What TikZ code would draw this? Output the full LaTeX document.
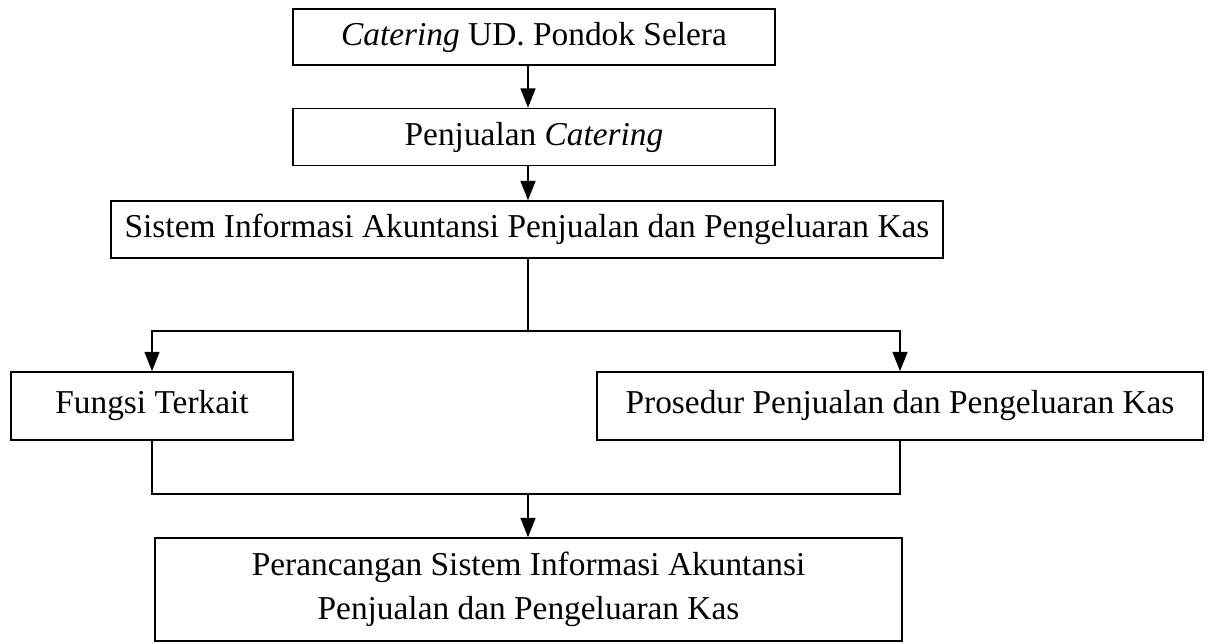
\documentclass[tikz,border=0pt]{standalone}
\usepackage{fontspec}
\setmainfont{Liberation Serif}
\usetikzlibrary{arrows.meta}
\begin{document}
\begin{tikzpicture}[x=0.02cm,y=-0.02cm,line width=0.9pt,>={Triangle[length=11pt,width=8.5pt]}]
		\tikzset{kotak/.style={draw,inner sep=0pt,align=center,
				font=\fontsize{19}{25}\selectfont},
			panah/.style={->,line join=miter}
		}
		\useasboundingbox (0,0) rectangle (1209,643);
		\node[kotak,minimum width=9.64cm,minimum height=1.12cm] (catering) at (534,37) {\textit{Catering} UD. Pondok Selera};
		\node[kotak,minimum width=9.64cm,minimum height=1.14cm] (penjualan) at (534,137) {Penjualan \textit{Catering}};
		\node[kotak,minimum width=16.64cm,minimum height=1.14cm] (sia) at (527,229.5) {Sistem Informasi Akuntansi Penjualan dan Pengeluaran Kas};
		\node[kotak,minimum width=5.64cm,minimum height=1.36cm] (fungsi) at (152,406) {Fungsi Terkait};
		\node[kotak,minimum width=12.12cm,minimum height=1.36cm] (prosedur) at (900,406) {Prosedur Penjualan dan Pengeluaran Kas};
		\node[kotak,minimum width=14.94cm,minimum height=2.06cm] (rancang) at (528.5,589.5) {Perancangan Sistem Informasi Akuntansi\\Penjualan dan Pengeluaran Kas};
		\coordinate (pisah) at (528,331);
		\coordinate (gabung) at (528,494);
		% alur atas
		\draw[panah] (catering.south -| pisah) -- (penjualan.north -| pisah);
		\draw[panah] (penjualan.south -| pisah) -- (sia.north -| pisah);
		% cabang
		\draw (sia.south -| pisah) -- (pisah);
		\draw[panah] (pisah) -| (fungsi.north);
		\draw[panah] (pisah) -| (prosedur.north);
		% gabung
		\draw (fungsi.south) |- (gabung) -| (prosedur.south);
		\draw[panah] (gabung) -- (rancang.north -| gabung);
	\end{tikzpicture}
\end{document}
